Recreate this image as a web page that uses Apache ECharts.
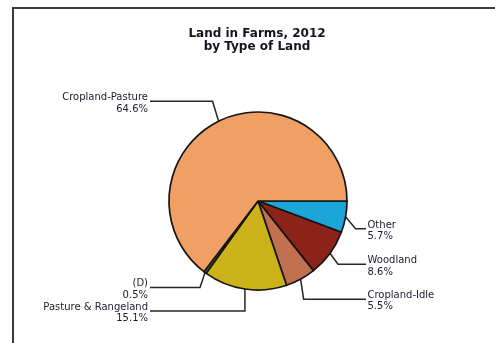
<!DOCTYPE html>
<html>
<head>
<meta charset="utf-8">
<script src="https://cdn.jsdelivr.net/npm/echarts@6/dist/echarts.min.js"></script>
<style>
  html, body { margin: 0; padding: 0; background: #fff; }
  #chart { width: 495px; height: 343px; }
</style>
</head>
<body>
<div id="chart"></div>
<script>
// slices in drawing order, clockwise from 3 o'clock
const categories = ["Other", "Woodland", "Cropland-Idle", "Pasture & Rangeland", "(D)", "Cropland-Pasture"];
const shares = [5.7, 8.6, 5.5, 15.1, 0.5, 64.6];
const sliceColors = ["#1CA5D7", "#8C2319", "#C17050", "#CBB219", "#5E7A2A", "#F0A064"];

// leader line elbow, offset from the slice edge point
const elbowDx = [10, 8, 3, 0, -5, -6];
const elbowDy = [12, 11, 20, 22, 15, -20];

const chart = echarts.init(document.getElementById("chart"));

const option = {
  animation: false,
  backgroundColor: "#fff",
  textStyle: { fontFamily: "DejaVu Sans" },
  title: {
    text: "Land in Farms, 2012\nby Type of Land",
    left: 257,
    top: 27,
    padding: 0,
    textAlign: "center",
    textStyle: {
      fontFamily: "DejaVu Sans",
      fontSize: 12,
      fontWeight: "bold",
      lineHeight: 13,
      color: "#14141f",
    },
  },
  graphic: [
    {
      type: "polyline",
      shape: { points: [[13, 350], [13, 8], [500, 8]] },
      style: { stroke: "#3a3a3a", lineWidth: 2, fill: null },
      silent: true,
    },
  ],
  series: [
    {
      type: "pie",
      center: [258, 201],
      radius: 89,
      startAngle: 0,
      clockwise: true,
      avoidLabelOverlap: false,
      emphasis: { disabled: true },
      itemStyle: { borderColor: "#151515", borderWidth: 1.7 },
      label: {
        show: true,
        position: "outside",
        formatter: "{b}\n{c}%",
        fontFamily: "DejaVu Sans",
        fontSize: 10,
        lineHeight: 11.5,
        color: "#1a1a30",
      },
      labelLine: {
        show: true,
        length: 10,
        length2: 10,
        lineStyle: { color: "#262626", width: 1.5 },
      },
      labelLayout: function (p) {
        const i = p.dataIndex;
        const pts = p.labelLinePoints;
        const start = pts[0];
        const isLeft = pts[2][0] < pts[1][0];
        const ex = start[0] + elbowDx[i];
        const ey = start[1] + elbowDy[i];
        const endX = isLeft ? 150 : 366;
        return {
          x: isLeft ? endX - 2 : endX + 1.5,
          y: ey + 2,
          align: isLeft ? "right" : "left",
          verticalAlign: "middle",
          labelLinePoints: [start, [ex, ey], [endX, ey]],
        };
      },
      data: categories.map((name, i) => ({
        name: name,
        value: shares[i],
        itemStyle: { color: sliceColors[i] },
      })),
    },
  ],
};

chart.setOption(option);
</script>
</body>
</html>
